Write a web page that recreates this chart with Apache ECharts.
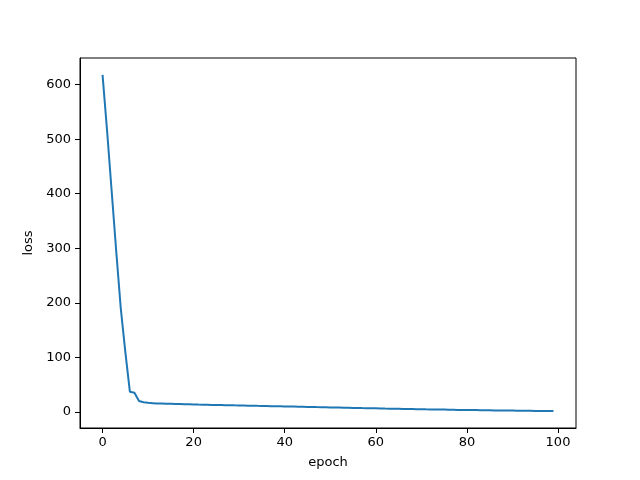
<!DOCTYPE html>
<html>
<head>
<meta charset="utf-8">
<script src="https://cdn.jsdelivr.net/npm/echarts@6/dist/echarts.min.js"></script>
<style>
html, body { margin: 0; padding: 0; background: #fff; }
#main { width: 640px; height: 480px; }
</style>
</head>
<body>
<div id="main"></div>
<script>
// loss per epoch
var loss = [
    618, 515, 405, 295, 190, 110, 37, 35, 20, 17.5,
    16.5, 16.0, 15.5, 15.3, 15.0, 14.8, 14.5, 14.3, 14.0, 13.8,
    13.5, 13.3, 13.2, 13.0, 12.8, 12.6, 12.5, 12.3, 12.1, 11.9,
    11.8, 11.6, 11.4, 11.2, 11.0, 10.9, 10.7, 10.5, 10.3, 10.2,
    10.0, 9.8, 9.6, 9.4, 9.3, 9.1, 8.9, 8.7, 8.6, 8.4,
    8.2, 8.0, 7.8, 7.6, 7.5, 7.3, 7.1, 6.9, 6.8, 6.6,
    6.4, 6.2, 6.0, 5.9, 5.7, 5.6, 5.4, 5.2, 5.1, 4.9,
    4.8, 4.6, 4.5, 4.3, 4.2, 4.1, 3.9, 3.8, 3.6, 3.5,
    3.4, 3.3, 3.2, 3.0, 2.9, 2.8, 2.7, 2.6, 2.5, 2.4,
    2.3, 2.2, 2.1, 2.0, 1.9, 1.8, 1.7, 1.7, 1.6, 1.5
];
var xTicks = [0, 20, 40, 60, 80, 100];
var yTicks = [0, 100, 200, 300, 400, 500, 600];

var points = loss.map(function (v, i) { return [i, v]; });

var myChart = echarts.init(document.getElementById('main'));
var font = 'DejaVu Sans';

function tickLabel(list) {
    return function (v) {
        return list.indexOf(Math.round(v * 1000) / 1000) >= 0 ? String(v) : '';
    };
}

var option = {
    animation: false,
    backgroundColor: '#fff',
    grid: {
        left: 80, right: 64, top: 58, bottom: 52,
        show: true, borderColor: '#000', borderWidth: 1
    },
    xAxis: {
        type: 'value',
        min: -4.95, max: 103.95,
        splitNumber: 5,
        name: 'epoch',
        nameLocation: 'middle',
        nameGap: 28,
        nameTextStyle: { fontFamily: font, fontSize: 13, color: '#000' },
        axisLine: { onZero: false, lineStyle: { color: '#000', width: 1 } },
        axisTick: { show: true, length: 5, lineStyle: { color: '#000' } },
        axisLabel: {
            fontFamily: font, fontSize: 13, color: '#000', margin: 8,
            showMinLabel: false, showMaxLabel: false,
            formatter: tickLabel(xTicks)
        },
        splitLine: { show: false }
    },
    yAxis: {
        type: 'value',
        min: -29.6, max: 648.9,
        splitNumber: 6,
        name: 'loss',
        nameLocation: 'middle',
        nameGap: 37,
        nameTextStyle: { fontFamily: font, fontSize: 13, color: '#000' },
        axisLine: { show: true, onZero: false, lineStyle: { color: '#000', width: 1 } },
        axisTick: { show: true, length: 5, lineStyle: { color: '#000' } },
        axisLabel: {
            fontFamily: font, fontSize: 13, color: '#000', margin: 9,
            showMinLabel: false, showMaxLabel: false,
            formatter: tickLabel(yTicks)
        },
        splitLine: { show: false }
    },
    series: [{
        name: 'loss',
        type: 'line',
        data: points,
        showSymbol: false,
        symbol: 'none',
        lineStyle: { color: '#1f77b4', width: 2 }
    }]
};

myChart.setOption(option);
</script>
</body>
</html>
